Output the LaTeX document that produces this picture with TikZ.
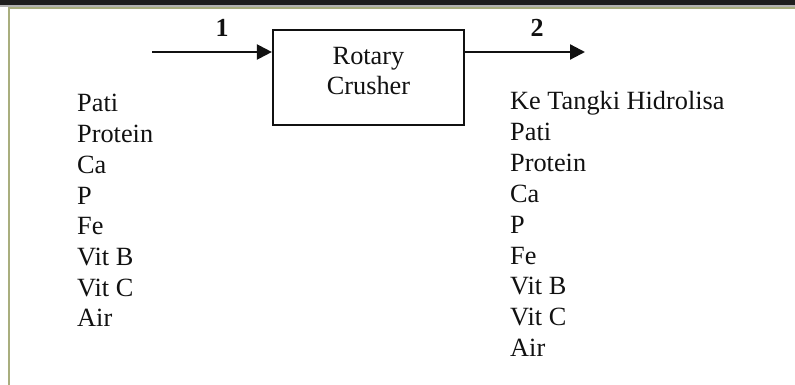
\documentclass[tikz,border=0pt]{standalone}
\usepackage{fontspec}
\setmainfont{Liberation Serif}
\usetikzlibrary{arrows.meta}
\definecolor{band}{HTML}{1E1E1E}
\definecolor{olive}{HTML}{A9AE7E}
\definecolor{ink}{HTML}{111111}
\tikzset{
  txt/.style={inner sep=0pt, anchor=base west, text=ink, font=\fontsize{26.3}{30}\selectfont},
  num/.style={inner sep=0pt, anchor=base, text=ink, font=\fontsize{26}{30}\selectfont\bfseries},
  flow/.style={draw=ink, line width=2.2pt, -{Triangle[length=15pt,width=15pt]}},
  unit/.style={draw=ink, line width=2.2pt, minimum width=191pt, minimum height=95pt, inner sep=0pt}
}
\begin{document}
\begin{tikzpicture}[x=1pt,y=-1pt]
\useasboundingbox (0,0) rectangle (795,385);
% scan frame
\fill[band] (0,0) rectangle (795,5);
\fill[gray!60] (0,5) rectangle (795,7);
\draw[olive, line width=2pt] (8.5,385) -- (8.5,8.5) -- (795,8.5);
% unit
\node[unit] (rc) at (368.5,77.5) {};
\node[txt, anchor=base] (rct1) at (368.5,65) {Rotary};
\node[txt, anchor=base] (rct2) at (368.5,95) {Crusher};
% streams
\coordinate (in) at (152,52);
\coordinate (out) at (585,52);
\draw[flow] (in) -- (in -| rc.west);
\draw[flow] (out -| rc.east) -- (out);
\node[num] (n1) at (222,37) {1};
\node[num] (n2) at (537,37) {2};
% left list
\foreach \t [count=\i from 0] in {Pati,Protein,Ca,P,Fe,Vit B,Vit C,Air}
  \node[txt] (l\i) at (77,112+30.7*\i) {\t};
% right list
\foreach \t [count=\i from 0] in {Ke Tangki Hidrolisa,Pati,Protein,Ca,P,Fe,Vit B,Vit C,Air}
  \node[txt] (r\i) at (510,110+30.8*\i) {\t};
\end{tikzpicture}
\end{document}
